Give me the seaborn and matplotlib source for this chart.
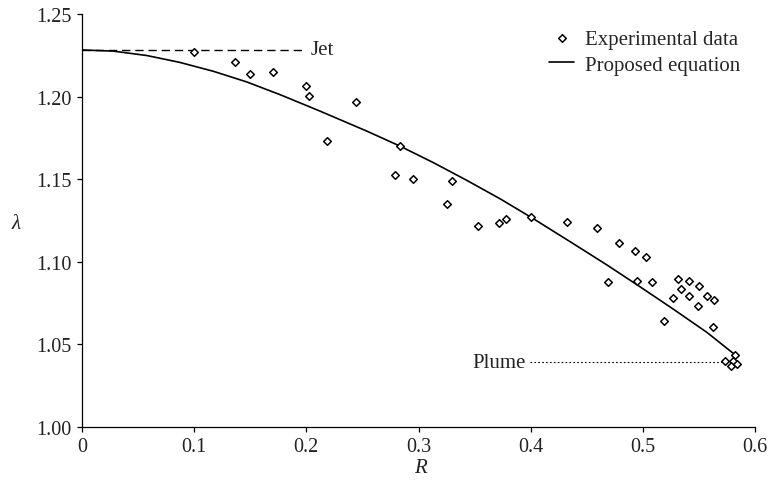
import matplotlib
matplotlib.use("Agg")
import matplotlib.pyplot as plt
import seaborn as sns
import pandas as pd

# Measured points
exp_R = [0.100, 0.136, 0.150, 0.170, 0.200, 0.202, 0.244, 0.218, 0.283, 0.279,
         0.295, 0.330, 0.325, 0.353, 0.372, 0.378, 0.400, 0.432, 0.459, 0.479,
         0.493, 0.503, 0.469, 0.495, 0.508, 0.531, 0.541, 0.550, 0.534, 0.527,
         0.541, 0.557, 0.563, 0.549, 0.519, 0.562, 0.573, 0.582, 0.580, 0.578,
         0.584]
exp_lambda = [1.2268, 1.2211, 1.2138, 1.2147, 1.2062, 1.2005, 1.1965, 1.1733, 1.1702, 1.1527,
              1.1502, 1.1489, 1.1351, 1.1214, 1.1232, 1.1256, 1.1269, 1.1237, 1.1204, 1.1111,
              1.1066, 1.1025, 1.0877, 1.0885, 1.0878, 1.0895, 1.0882, 1.0853, 1.0833, 1.0780,
              1.0789, 1.0794, 1.0767, 1.0732, 1.0641, 1.0603, 1.0396, 1.0435, 1.0396, 1.0367,
              1.0377]

# Proposed equation, tabulated
eq_R = [0.000, 0.028, 0.058, 0.087, 0.117, 0.147, 0.177, 0.212, 0.254, 0.283,
        0.313, 0.343, 0.373, 0.402, 0.438, 0.468, 0.497, 0.527, 0.557, 0.581]
eq_lambda = [1.2282, 1.2275, 1.2248, 1.2207, 1.2153, 1.2088, 1.2010, 1.1912, 1.1790, 1.1701,
             1.1600, 1.1492, 1.1379, 1.1261, 1.1108, 1.0979, 1.0849, 1.0712, 1.0571, 1.0441]

# Limiting values
jet_R = [0.0, 0.197]
jet_lambda = [1.2282, 1.2282]
plume_R = [0.3995, 0.576]
plume_lambda = [1.039, 1.039]

x_ticks = [0, 0.1, 0.2, 0.3, 0.4, 0.5, 0.6]
x_ticklabels = ["0", "0.1", "0.2", "0.3", "0.4", "0.5", "0.6"]
y_ticks = [1.00, 1.05, 1.10, 1.15, 1.20, 1.25]
y_ticklabels = ["1.00", "1.05", "1.10", "1.15", "1.20", "1.25"]

sns.set_theme(style="ticks")
plt.rcParams["font.family"] = ["Liberation Serif", "DejaVu Serif"]

fig = plt.figure(figsize=(7.73, 4.89), dpi=100)
ax = fig.add_axes([0.106, 0.1254, 0.871, 0.8440])

exp_df = pd.DataFrame({"R": exp_R, "lam": exp_lambda})
eq_df = pd.DataFrame({"R": eq_R, "lam": eq_lambda})

sns.lineplot(data=eq_df, x="R", y="lam", ax=ax, color="black", linewidth=1.2,
             sort=False, label="Proposed equation", zorder=2)
sns.scatterplot(data=exp_df, x="R", y="lam", ax=ax, marker="D", s=15,
                facecolor="white", edgecolor="black", linewidth=1.1,
                label="Experimental data", zorder=3)

ax.plot(jet_R, jet_lambda, color="black", linewidth=1.0, linestyle=(0, (6, 3.5)), zorder=1)
ax.plot(plume_R, plume_lambda, color="black", linewidth=0.8, linestyle=(0, (1.5, 2)), zorder=1)
ax.text(0.2035, jet_lambda[0], "Jet", ha="left", va="center", fontsize=15, color="#222222")
ax.text(0.3955, plume_lambda[0], "Plume", ha="right", va="center", fontsize=15, color="#222222")

ax.set_xlim(0, 0.6)
ax.set_ylim(1.00, 1.25)
ax.set_xticks(x_ticks)
ax.set_xticklabels(x_ticklabels)
ax.set_yticks(y_ticks)
ax.set_yticklabels(y_ticklabels)
ax.tick_params(axis="both", direction="out", length=3.5, width=0.9, color="black",
               labelsize=14.5, labelcolor="#222222", pad=4)

for side in ("top", "right"):
    ax.spines[side].set_visible(False)
for side in ("left", "bottom"):
    ax.spines[side].set_color("black")
    ax.spines[side].set_linewidth(0.9)

ax.set_xlabel("R", fontsize=15, fontstyle="italic", color="#222222")
ax.set_ylabel("λ", fontsize=15, fontstyle="italic", rotation=0, color="#222222")
ax.xaxis.set_label_coords(0.503, -0.075)
ax.yaxis.set_label_coords(-0.098, 0.47)

handles, labels = ax.get_legend_handles_labels()
order = [labels.index("Experimental data"), labels.index("Proposed equation")]
ax.legend([handles[i] for i in order], [labels[i] for i in order],
          loc="upper right", bbox_to_anchor=(0.996, 0.993), frameon=False,
          fontsize=15, handlelength=1.2, handletextpad=0.5, labelspacing=0.3,
          borderaxespad=0.2)

ax.set_facecolor("white")
fig.patch.set_facecolor("white")
fig.savefig("out.png", dpi=100, facecolor="white")
